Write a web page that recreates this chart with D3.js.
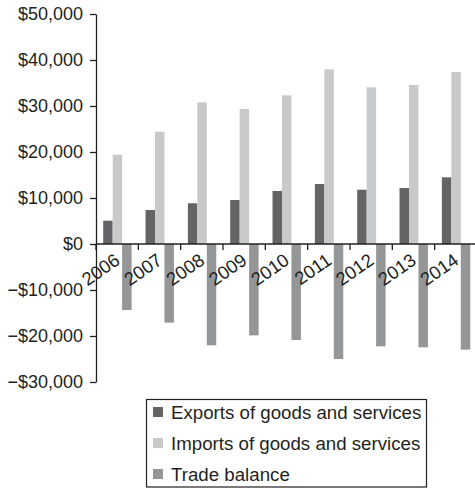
<!DOCTYPE html>
<html>
<head>
<meta charset="utf-8">
<script src="https://cdn.jsdelivr.net/npm/d3@7"></script>
<style>
  html, body { margin: 0; padding: 0; background: #fff; }
  svg { display: block; font-family: "Liberation Sans", Arial, Helvetica, sans-serif; }
</style>
</head>
<body>
<svg id="chart" width="475" height="488"></svg>
<script>
// Trade figures, millions of dollars
const years = ["2006", "2007", "2008", "2009", "2010", "2011", "2012", "2013", "2014"];
const exportsValues = [5070, 7400, 8850, 9570, 11520, 13040, 11800, 12170, 14500];
const importsValues = [19420, 24420, 30800, 29350, 32320, 37970, 34060, 34570, 37390];
const balanceValues = [-14350, -17100, -22030, -19860, -20870, -25000, -22250, -22460, -22970];
const yTicks = [-30000, -20000, -10000, 0, 10000, 20000, 30000, 40000, 50000];
const seriesNames = ["Exports of goods and services", "Imports of goods and services", "Trade balance"];
const seriesKeys = ["exports", "imports", "balance"];
const seriesColors = ["#636466", "#c8c9cb", "#959698"];

const rows = years.map((yr, i) => ({
  year: yr,
  exports: exportsValues[i],
  imports: importsValues[i],
  balance: balanceValues[i]
}));

const svg = d3.select("#chart");
const plotLeft = 96, plotRight = 477, plotTop = 14, plotBottom = 382;
const ink = "#231f20";

const y = d3.scaleLinear().domain([-30000, 50000]).range([plotBottom, plotTop]);
const xCat = d3.scaleBand().domain(years).range([plotLeft, plotRight]).padding(0);
const xSeries = d3.scaleBand().domain(seriesKeys).range([7.2, 35.6]).padding(0);
const color = d3.scaleOrdinal().domain(seriesKeys).range(seriesColors);

// Bars
const groups = svg.append("g").selectAll("g")
  .data(rows).join("g")
  .attr("transform", d => `translate(${xCat(d.year)},0)`);

groups.selectAll("rect")
  .data(d => seriesKeys.map(k => ({ key: k, value: d[k] })))
  .join("rect")
  .attr("x", d => xSeries(d.key))
  .attr("width", xSeries.bandwidth())
  .attr("y", d => y(Math.max(0, d.value)))
  .attr("height", d => Math.abs(y(d.value) - y(0)))
  .attr("fill", d => color(d.key));

// Y axis
const fmt = v => (v < 0 ? "\u2212$" : "$") + d3.format(",")(Math.abs(v));
const yAxis = svg.append("g")
  .attr("transform", `translate(${plotLeft},0)`)
  .call(d3.axisLeft(y).tickValues(yTicks).tickFormat(fmt).tickSize(6).tickPadding(7).tickSizeOuter(0));
yAxis.select(".domain").attr("stroke", ink).attr("stroke-width", 1.3);
yAxis.selectAll(".tick line").attr("stroke", ink).attr("stroke-width", 1.3);
yAxis.selectAll(".tick text").attr("fill", ink).attr("font-size", 18).attr("font-family", null);

// X axis along zero, ticks on category boundaries
const xAxis = svg.append("g").attr("transform", `translate(0,${y(0)})`);
xAxis.append("line")
  .attr("x1", plotLeft).attr("x2", plotRight)
  .attr("stroke", ink).attr("stroke-width", 1.3);
xAxis.selectAll("line.tk")
  .data(years).join("line").attr("class", "tk")
  .attr("x1", d => xCat(d)).attr("x2", d => xCat(d))
  .attr("y1", 0).attr("y2", 6)
  .attr("stroke", ink).attr("stroke-width", 1.3);
xAxis.selectAll("text")
  .data(years).join("text")
  .attr("transform", d => `translate(${xCat(d) + xCat.bandwidth() / 2 + 4},19) rotate(-35)`)
  .attr("text-anchor", "end")
  .attr("font-size", 18.5)
  .attr("fill", ink)
  .text(d => d);

// Legend
const legend = svg.append("g");
legend.append("rect")
  .attr("x", 146.5).attr("y", 399.5).attr("width", 280).attr("height", 87.5)
  .attr("fill", "none").attr("stroke", ink).attr("stroke-width", 1.2);
const items = legend.selectAll("g.item")
  .data(seriesKeys).join("g").attr("class", "item")
  .attr("transform", (d, i) => `translate(153,${412 + i * 31})`);
items.append("rect")
  .attr("x", 0).attr("y", -5).attr("width", 10).attr("height", 10)
  .attr("fill", d => color(d));
items.append("text")
  .attr("x", 18).attr("y", 0).attr("dy", "0.35em")
  .attr("font-size", 18.7).attr("fill", ink)
  .text((d, i) => seriesNames[i]);
</script>
</body>
</html>
